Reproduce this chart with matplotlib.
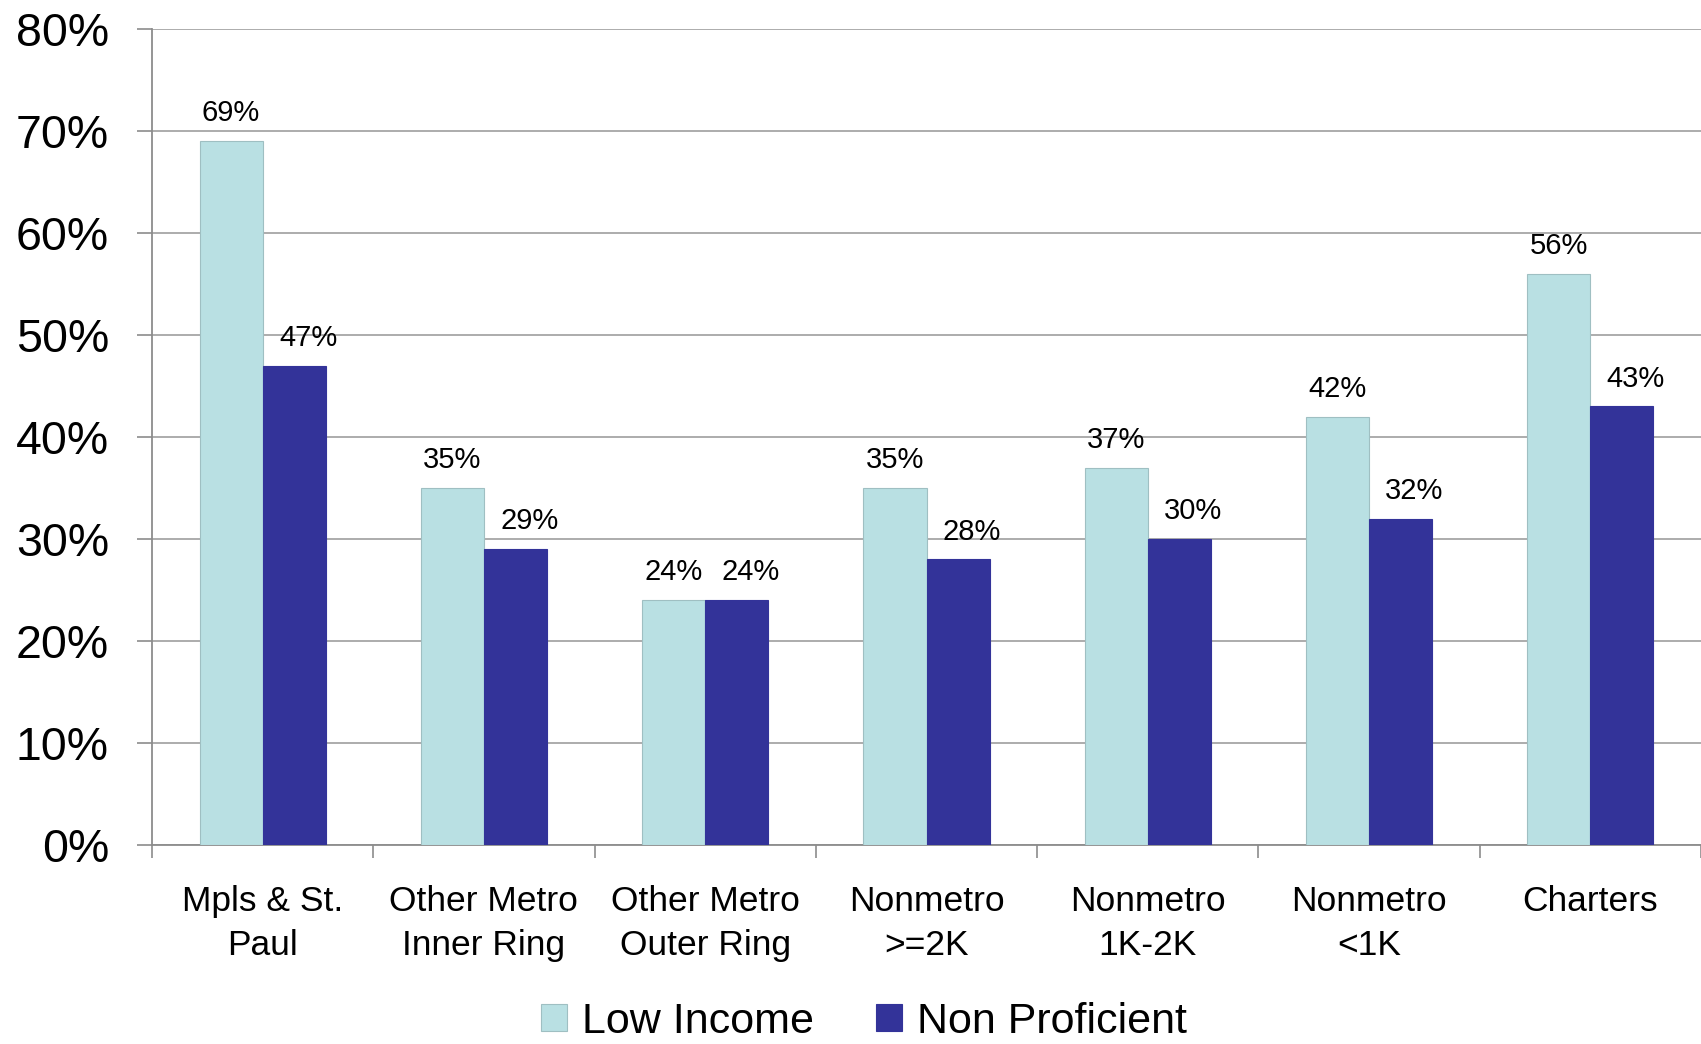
import matplotlib
matplotlib.use("Agg")
import matplotlib.pyplot as plt
import numpy as np
from matplotlib.ticker import FixedLocator, PercentFormatter

plt.rcParams['font.family'] = ['Liberation Sans', 'DejaVu Sans']

categories = ["Mpls & St.\nPaul", "Other Metro\nInner Ring", "Other Metro\nOuter Ring",
              "Nonmetro\n>=2K", "Nonmetro\n1K-2K", "Nonmetro\n<1K", "Charters"]
low_income = [69, 35, 24, 35, 37, 42, 56]
non_proficient = [47, 29, 24, 28, 30, 32, 43]
series_names = ["Low Income", "Non Proficient"]
y_ticks = [0, 10, 20, 30, 40, 50, 60, 70, 80]

light = "#B9E0E3"
dark = "#333399"
grid_col = "#a6a6a6"

fig = plt.figure(figsize=(17.01, 10.44), dpi=100)
ax = fig.add_axes([152 / 1701, 1 - 845 / 1044, 1 - 152 / 1701, (845 - 29) / 1044])

x = np.arange(len(categories))
w = 63 / 221
b1 = ax.bar(x - w / 2, low_income, w, color=light, edgecolor="#9fbfc2", linewidth=0.8,
            label=series_names[0], zorder=3)
b2 = ax.bar(x + w / 2, non_proficient, w, color=dark, edgecolor=dark, linewidth=0.8,
            label=series_names[1], zorder=3)

for rect, v in zip(b1, low_income):
    ax.annotate(f"{v}%", (rect.get_x() + rect.get_width() / 2, v),
                xytext=(0, 10), textcoords="offset points",
                ha="center", va="bottom", fontsize=21)
for rect, v in zip(b2, non_proficient):
    ax.annotate(f"{v}%", (rect.get_x() + rect.get_width() / 2, v),
                xytext=(10, 10), textcoords="offset points",
                ha="center", va="bottom", fontsize=21)

ax.set_xlim(-0.5, len(categories) - 0.5)
ax.set_ylim(0, 80)
ax.yaxis.set_major_locator(FixedLocator(y_ticks))
ax.yaxis.set_major_formatter(PercentFormatter(decimals=0))
ax.grid(axis="y", color=grid_col, linewidth=1.3, zorder=0)

ax.set_xticks(x)
ax.set_xticklabels(categories, fontsize=25.5, linespacing=1.42)
ax.set_xticks(np.arange(len(categories) + 1) - 0.5, minor=True)
ax.tick_params(axis="x", which="major", length=0, pad=29)
ax.tick_params(axis="x", which="minor", length=9, width=1.2, color="#8c8c8c")
ax.tick_params(axis="y", length=11, width=1.2, color="#8c8c8c", pad=20, labelsize=33.5)

for s in ["top", "right"]:
    ax.spines[s].set_visible(False)
ax.spines["left"].set_color("#8c8c8c")
ax.spines["left"].set_linewidth(1.3)
ax.spines["bottom"].set_color("#8c8c8c")
ax.spines["bottom"].set_linewidth(1.3)

fig.legend(handles=[b1, b2], labels=series_names, loc="center",
           bbox_to_anchor=(864 / 1701, 1 - 1022 / 1044), ncol=2, frameon=False,
           fontsize=31, handlelength=0.6, handleheight=0.6, handletextpad=0.35,
           columnspacing=1.45, borderpad=0.2)

fig.savefig("out.png", dpi=100)
